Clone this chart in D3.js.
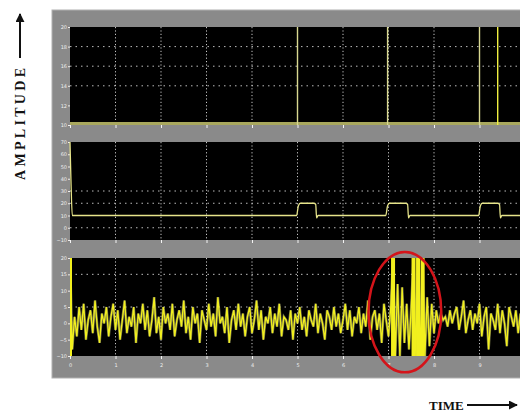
<!DOCTYPE html>
<html>
<head>
<meta charset="utf-8">
<script src="https://cdn.jsdelivr.net/npm/d3@7"></script>
<style>
  body { margin: 0; background: #fff; }
  svg { display: block; }
</style>
</head>
<body>
<svg width="520" height="414"></svg>
<script>
// x ticks shared by the three traces
const timeTicks = [0, 1, 2, 3, 4, 5, 6, 7, 8, 9];
const timeLabels = ["0", "1", "2", "3", "4", "5", "6", "7", "8", "9"];

// trace 1: event markers over a flat baseline
const ticks1 = [20, 18, 16, 14, 12, 10];
const grid1 = [18, 16, 14];
const base1 = 10;
const spikes1 = [5.0, 6.98, 9.0, 9.4];

// trace 2: step signal
const ticks2 = [70, 60, 50, 40, 30, 20, 10, 0, -10];
const grid2 = [30, 20, 0];
const time2 = [0, 0.02, 0.05, 4.98, 5.02, 5.06, 5.36, 5.4, 5.42, 5.45,
               6.94, 6.98, 7.02, 7.38, 7.42, 7.44, 7.47,
               8.98, 9.02, 9.06, 9.4, 9.44, 9.46, 9.49, 10];
const value2 = [70, 40, 10, 10, 18, 20, 20, 19, 8, 10,
                10, 18, 20, 20, 19, 8, 10,
                10, 18, 20, 20, 19, 8, 10, 10];

// trace 3: noisy signal, one sample every 0.05
const ticks3 = [20, 15, 10, 5, 0, -5, -10];
const grid3 = [15, 5];
const value3 = [
  20, -8, 2, -4, 5, -2, 6, -5, 1, 4, -3, 7, -1, -6, 3, 0, 5, -4, 2, 6,
  -2, 4, -5, 1, 7, -3, 2, -1, 5, -6, 3, 0, 6, -2, 4, -4, 1, 8, -3, 2,
  -5, 5, 0, 3, -2, 6, -4, 1, 4, -1, 7, -3, 2, -5, 5, 0, 3, -6, 4, 1,
  -2, 6, -1, 3, -4, 8, 0, 2, -3, 5, -6, 1, 4, -2, 6, -1, 3, -4, 2, 5,
  -3, 1, 7, -2, 4, -5, 2, 0, 5, -3, 3, -1, 6, -4, 2, 1, -2, 4, -5, 3,
  0, 5, -2, 2, -4, 4, 1, -1, 6, -3, 3, 0, -5, 4, 2, -2, 5, -1, 3, -3,
  1, 6, -2, 4, -4, 2, 0, 5, -3, 3, -1, 7, -5, 2, 4, -2, 3, -6, 6, 1,
  -4, 5, 20, -10, 12, -10, 11, -6, 6, -8, 5, 20, -10, 20, -10, 20, -10, 8, -7, 6,
  -3, 4, 0, 3, 1, 2, -1, 4, 0, 3, 5, -2, 2, 7, -3, 1, 4, -2, 3, 0,
  6, -4, 2, 5, -8, 3, 1, -2, 6, -3, 4, 0, -7, 5, 2, -1, 4, -3, 3, 1
];
const step3 = 0.05;

// highlighted burst (centre in time / amplitude, radii in the same units)
const burst = { t: 7.36, v: 3.4, rt: 0.8, rv: 18.4 };

const svg = d3.select("svg");
const yellow = "#f2f01e";

// grey frame
svg.append("rect")
  .attr("x", 52).attr("y", 10).attr("width", 480).attr("height", 368)
  .attr("fill", "#8a8a8a").attr("stroke", "#b0b0b0").attr("stroke-width", 1);

const x = d3.scaleLinear().domain([0, 10]).range([70, 525]);

const panels = [
  { top: 27, ticks: ticks1, grid: grid1, domain: [10, 20] },
  { top: 142, ticks: ticks2, grid: grid2, domain: [-10, 70] },
  { top: 258, ticks: ticks3, grid: grid3, domain: [-10, 20] }
];
const ph = 98;

panels.forEach((p, i) => {
  p.y = d3.scaleLinear().domain(p.domain).range([p.top + ph, p.top]);
  const g = svg.append("g");
  g.append("rect").attr("x", 70).attr("y", p.top).attr("width", 460).attr("height", ph)
    .attr("fill", "#000");

  // dotted grid
  g.selectAll(".vg").data(timeTicks.slice(1)).join("line")
    .attr("x1", d => x(d)).attr("x2", d => x(d))
    .attr("y1", p.top).attr("y2", p.top + ph)
    .attr("stroke", "#dcdcdc").attr("stroke-width", 0.9)
    .attr("stroke-dasharray", "1.2,2.2");
  g.selectAll(".hg").data(p.grid).join("line")
    .attr("x1", 70).attr("x2", 525)
    .attr("y1", d => p.y(d)).attr("y2", d => p.y(d))
    .attr("stroke", "#d0d0d0").attr("stroke-width", 0.9)
    .attr("stroke-dasharray", "1.5,4");

  // y axis labels
  const ya = d3.axisLeft(p.y).tickValues(p.ticks).tickSize(2).tickPadding(1);
  const ag = g.append("g").attr("transform", "translate(70,0)").call(ya);
  ag.select(".domain").remove();
  ag.selectAll("line").attr("stroke", "#eee");
  ag.selectAll("text").attr("fill", "#eee").style("font", "5px 'DejaVu Sans'");

  // x tick marks above / below panel
  const xa = d3.axisBottom(x).tickValues(timeTicks).tickSize(3).tickFormat(i === 2 ? (d, k) => timeLabels[k] : "");
  const xg = g.append("g").attr("transform", `translate(0,${p.top + ph})`).call(xa);
  xg.select(".domain").remove();
  xg.selectAll("line").attr("stroke", "#f4f4f4");
  xg.selectAll("text").attr("fill", "#eee").attr("dy", "0.9em").style("font", "5px 'DejaVu Sans'");
});

// trace 1
const p1 = panels[0];
svg.append("line")
  .attr("x1", x(0)).attr("x2", x(10))
  .attr("y1", p1.y(base1) - 1.5).attr("y2", p1.y(base1) - 1.5)
  .attr("stroke", "#a9a85e").attr("stroke-width", 3);
svg.selectAll(".spike1").data(spikes1).join("line")
  .attr("x1", d => x(d)).attr("x2", d => x(d))
  .attr("y1", p1.y(base1)).attr("y2", p1.y(20))
  .attr("stroke", (d, k) => k === 3 ? "#f0ef40" : "#d8d890")
  .attr("stroke-width", 1.4);

// trace 2
const p2 = panels[1];
const line2 = d3.line().x(d => x(d[0])).y(d => p2.y(d[1])).curve(d3.curveMonotoneX);
svg.append("path")
  .datum(d3.zip(time2, value2))
  .attr("d", line2)
  .attr("fill", "none").attr("stroke", "#e6e48a").attr("stroke-width", 1.3);

// trace 3
const p3 = panels[2];
svg.append("defs").append("clipPath").attr("id", "c3")
  .append("rect").attr("x", 70).attr("y", p3.top).attr("width", 460).attr("height", ph);
const line3 = d3.line().x((d, k) => x(k * step3)).y(d => p3.y(d));
// soft halo under the bright trace, gives the smeared look of the scan
svg.append("path")
  .datum(value3)
  .attr("clip-path", "url(#c3)")
  .attr("d", line3)
  .attr("fill", "none").attr("stroke", "#c9c87a").attr("stroke-width", 2.6)
  .attr("opacity", 0.55);
svg.append("path")
  .datum(value3)
  .attr("clip-path", "url(#c3)")
  .attr("d", line3)
  .attr("fill", "none").attr("stroke", yellow).attr("stroke-width", 1.3)
  .attr("stroke-linejoin", "miter");
// wide bursts drawn as filled bars
svg.append("g").attr("clip-path", "url(#c3)")
  .selectAll("rect").data(value3.map((v, k) => [k, v]).filter(d => Math.abs(d[1]) >= 20))
  .join("rect")
  .attr("x", d => x(d[0] * step3) - 2)
  .attr("width", 4)
  .attr("y", p3.y(20)).attr("height", p3.y(-10) - p3.y(20))
  .attr("fill", yellow);

// red ellipse around the burst
svg.append("ellipse")
  .attr("cx", x(burst.t)).attr("cy", p3.y(burst.v))
  .attr("rx", x(burst.rt) - x(0)).attr("ry", p3.y(0) - p3.y(burst.rv))
  .attr("fill", "none").attr("stroke", "#d4141a").attr("stroke-width", 2.5);

// axis captions
const marker = svg.append("defs").append("marker")
  .attr("id", "arr").attr("viewBox", "0 0 10 10").attr("refX", 9).attr("refY", 5)
  .attr("markerWidth", 4.5).attr("markerHeight", 4.5).attr("orient", "auto");
marker.append("path").attr("d", "M0,0L10,5L0,10z").attr("fill", "#111");

svg.append("text")
  .attr("transform", "translate(25,124) rotate(-90)")
  .attr("text-anchor", "middle")
  .attr("textLength", 112).attr("lengthAdjust", "spacing")
  .style("font", "bold 14px 'Liberation Serif'").attr("fill", "#111")
  .text("AMPLITUDE");
svg.append("line").attr("x1", 20).attr("x2", 20).attr("y1", 58).attr("y2", 14)
  .attr("stroke", "#111").attr("stroke-width", 2).attr("marker-end", "url(#arr)");

svg.append("text")
  .attr("x", 429).attr("y", 410)
  .style("font", "bold 13px 'Liberation Serif'").attr("fill", "#111")
  .text("TIME");
svg.append("line").attr("x1", 467).attr("x2", 517).attr("y1", 405).attr("y2", 405)
  .attr("stroke", "#111").attr("stroke-width", 2).attr("marker-end", "url(#arr)");
</script>
</body>
</html>
